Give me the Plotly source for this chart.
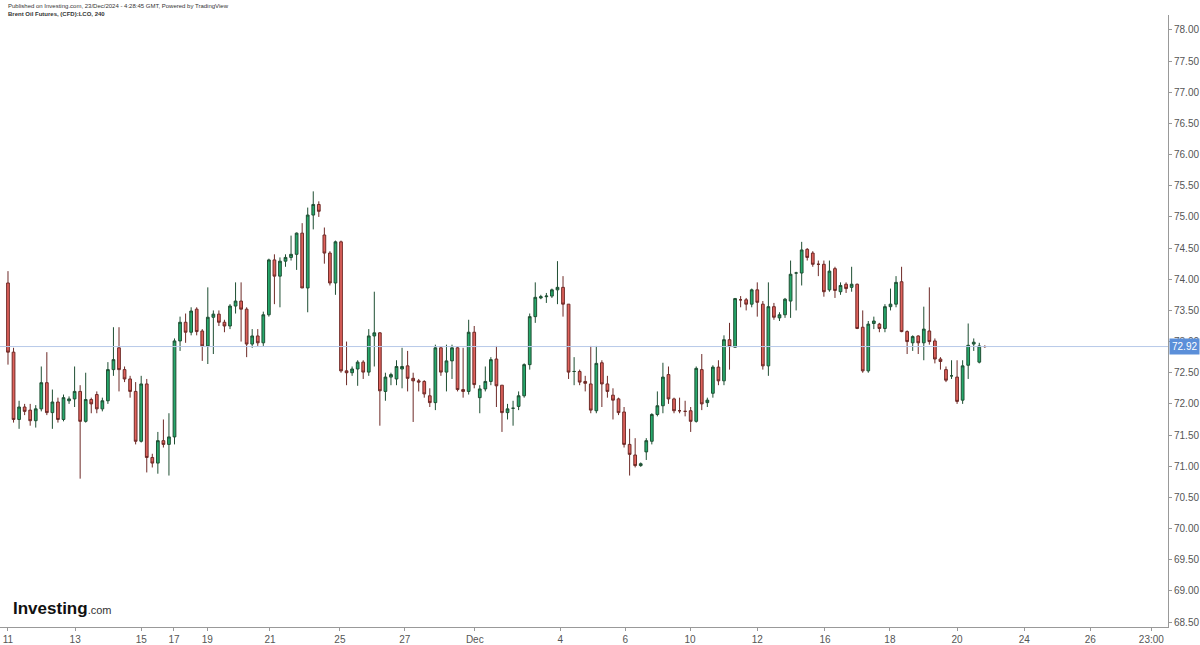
import plotly.graph_objects as go

opens = [73.94,72.83,71.75,71.95,71.9,71.73,71.92,72.34,71.86,72.03,71.75,72.05,72.08,72.2,71.72,72.07,72.15,71.92,72.05,72.55,
72.9,72.55,72.4,72.2,71.4,72.32,71.14,71.05,71.41,71.35,71.47,73.01,73.31,73.15,73.52,73.17,72.93,73.39,73.44,73.31,
73.25,73.57,73.65,73.52,72.96,73.09,72.98,73.43,74.31,74.05,74.29,74.35,74.4,74.74,73.86,75.03,75.2,74.71,74.42,73.94,
74.6,72.53,72.5,72.56,72.67,72.51,73.09,73.14,72.2,72.43,72.4,72.56,72.61,72.41,72.37,72.36,72.13,72.02,72.9,72.51,
72.69,72.9,72.23,72.2,73.15,72.1,72.24,72.36,72.72,72.3,71.86,71.93,71.96,72.13,72.63,73.4,73.7,73.72,73.73,73.83,
73.87,73.6,72.52,72.52,72.36,72.32,71.89,72.66,72.32,72.14,72.08,71.87,71.35,71.18,71.01,71.23,71.4,71.83,71.97,72.47,
72.08,71.89,71.88,71.89,71.72,72.55,72.02,72.17,72.59,72.37,73.03,72.91,73.67,73.67,73.6,73.83,73.6,72.61,73.56,73.38,
73.43,73.65,74.1,74.1,74.48,74.42,74.24,74.24,73.83,74.17,73.8,73.92,73.87,73.92,73.23,72.53,73.29,73.28,73.21,73.56,
73.6,73.96,73.16,72.98,73.09,72.98,73.17,73.01,72.72,72.55,72.45,72.43,72.06,72.62,72.96,72.67,72.92]
closes = [72.83,71.75,71.95,71.88,71.73,71.92,72.34,71.86,72.03,71.75,72.1,72.08,72.2,71.72,72.07,72.0,71.92,72.05,72.55,72.71,
72.55,72.4,72.2,71.4,72.32,71.14,71.05,71.41,71.35,71.47,73.01,73.31,73.15,73.49,73.16,72.93,73.39,73.44,73.31,73.25,
73.57,73.65,73.52,72.96,73.09,72.98,73.43,74.31,74.05,74.29,74.35,74.4,74.74,73.86,75.03,75.2,75.09,74.42,73.94,74.6,
72.53,72.5,72.56,72.67,72.51,73.09,73.14,72.21,72.43,72.47,72.6,72.6,72.41,72.37,72.35,72.16,72.02,72.9,72.51,72.69,
72.9,72.23,72.2,73.15,72.31,72.24,72.36,72.71,72.29,71.86,71.92,71.93,72.13,72.63,73.4,73.71,73.72,73.73,73.83,73.87,
73.6,72.51,72.52,72.35,72.33,71.9,72.65,72.32,72.2,72.06,71.86,71.35,71.19,71.01,71.04,71.41,71.83,71.97,72.43,72.08,
71.89,71.89,71.88,71.72,72.57,72.0,72.06,72.59,72.37,73.03,72.92,73.69,73.67,73.6,73.83,73.63,72.61,73.56,73.39,73.43,
73.68,74.08,74.1,74.47,74.35,74.24,74.24,73.8,74.13,73.82,73.9,73.85,73.92,73.21,72.53,73.28,73.33,73.21,73.56,73.6,
73.95,73.16,73.0,73.08,72.98,73.2,73.0,72.72,72.68,72.38,72.45,72.04,72.61,72.94,72.99,72.93,72.92]
highs = [74.13,72.9,72.05,72.0,72.0,71.98,72.6,72.83,72.23,72.1,72.15,72.12,72.6,72.3,72.5,72.1,72.2,72.1,72.67,73.23,
73.23,72.6,72.45,72.35,72.45,72.4,71.2,71.55,71.75,71.85,73.05,73.4,73.45,73.55,73.55,73.2,73.87,73.5,73.5,73.35,
73.6,73.95,73.95,73.55,73.2,73.2,73.48,74.33,74.4,74.35,74.4,74.7,74.75,74.9,75.15,75.41,75.25,74.83,74.45,74.62,
74.62,73.0,72.6,72.7,72.7,73.2,73.8,73.15,72.5,72.5,72.7,72.9,72.85,72.5,72.4,72.38,72.25,72.95,72.92,72.95,
72.95,72.92,72.9,73.35,73.25,72.3,72.6,72.75,72.93,72.3,72.0,72.05,72.2,72.65,73.45,73.95,73.75,73.78,73.85,74.29,
74.05,73.6,72.75,72.55,72.45,72.93,72.93,72.7,72.45,72.25,72.1,71.95,71.6,71.45,71.06,71.45,71.85,72.2,72.66,72.6,
72.1,72.1,72.05,71.95,72.6,72.8,72.1,72.62,72.7,73.1,73.3,73.7,73.73,73.7,73.85,73.95,73.65,73.95,73.62,73.47,
73.7,74.3,74.12,74.6,74.5,74.45,74.3,74.3,74.3,74.2,73.95,73.95,74.2,73.93,73.5,73.33,73.4,73.3,73.6,73.85,
74.05,74.2,73.18,73.1,73.1,73.56,73.87,73.05,72.75,72.6,72.7,72.7,72.7,73.29,73.05,72.98,72.94]
lows = [72.63,71.7,71.6,71.82,71.65,71.62,71.88,71.82,71.6,71.7,71.72,72.0,71.95,70.8,71.7,71.85,71.85,71.88,72.0,72.45,
72.2,72.35,72.1,71.35,71.38,70.9,70.98,70.88,71.3,70.85,71.35,72.85,72.98,73.1,73.1,72.69,72.64,72.8,73.25,73.15,
73.2,73.45,73.0,72.75,72.9,72.93,72.93,73.4,73.6,73.55,74.2,74.3,74.15,73.86,73.47,74.8,75.0,74.25,73.9,73.75,
72.5,72.3,72.45,72.29,72.4,72.45,72.6,71.65,72.05,72.3,72.3,72.25,72.2,71.71,72.2,72.1,71.95,71.9,72.45,72.2,
72.4,72.2,72.1,72.15,72.25,71.85,72.2,72.3,71.95,71.55,71.75,71.65,71.9,72.1,72.55,73.3,73.68,73.62,73.7,73.6,
73.4,72.4,72.3,72.3,72.2,71.85,71.85,71.95,72.1,71.75,71.82,71.3,70.85,70.98,70.99,71.1,71.35,71.8,71.85,72.0,
71.85,71.85,71.8,71.55,71.7,71.9,71.95,72.1,72.3,72.3,72.55,72.9,73.55,73.5,73.55,73.4,72.55,72.45,73.35,73.33,
73.38,73.38,73.5,73.9,74.3,74.2,74.05,73.72,73.8,73.7,73.75,73.78,73.8,73.2,72.5,72.5,73.2,73.15,73.15,73.5,
73.55,73.15,72.8,72.85,72.8,72.7,72.95,72.65,72.55,72.35,72.4,72.0,72.0,72.4,72.85,72.65,72.9]

tick_labels = ["11","13","15","17","19","21","25","27","Dec","4","6","10","12","16","18","20","24","26","23:00"]
tick_pos = [0,12.1,24.0,29.9,35.9,47.2,59.8,71.5,84.1,99.5,111.2,122.9,135.0,147.2,158.9,171.0,183.1,195.0,206.0]
last_price = 72.92

x = list(range(len(closes)))
fig = go.Figure(go.Candlestick(
    x=x, open=opens, high=highs, low=lows, close=closes,
    increasing=dict(fillcolor="#26a96c", line=dict(color="#1f4f33", width=1)),
    decreasing=dict(fillcolor="#e0625c", line=dict(color="#6e2a27", width=1)),
    whiskerwidth=0, showlegend=False, hoverinfo="skip"))

fig.add_hline(y=last_price, line=dict(color="#b7c9e8", width=1))

fig.update_layout(
    width=1200, height=645, plot_bgcolor="white", paper_bgcolor="white",
    margin=dict(l=0, r=32, t=15, b=16),
    font=dict(family="Liberation Sans, Arial", color="#555", size=10),
    xaxis=dict(range=[-1.44, 209.0], rangeslider=dict(visible=False), showgrid=False,
               tickmode="array", tickvals=tick_pos, ticktext=tick_labels,
               showline=True, linecolor="#999", linewidth=1, ticks="outside",
               ticklen=3, tickcolor="#999", zeroline=False),
    yaxis=dict(side="right", range=[68.42, 78.24], dtick=0.5, tickformat=".2f",
               showgrid=False, showline=True, linecolor="#999", linewidth=1,
               ticks="outside", ticklen=3, tickcolor="#999", zeroline=False),
)
fig.add_annotation(xref="paper", yref="y", x=1.0, y=last_price, xanchor="left",
                   text="72.92", showarrow=False, bgcolor="#5b8fd9",
                   font=dict(color="white", size=10), borderpad=2, xshift=1)
fig.add_annotation(xref="paper", yref="paper", x=0.005, y=1.0, yanchor="top", xanchor="left",
                   xshift=0, yshift=14, showarrow=False, align="left",
                   text="Published on Investing.com, 23/Dec/2024 - 4:28:45 GMT, Powered by TradingView<br><b>Brent Oil Futures, (CFD):LCO, 240</b>",
                   font=dict(size=6, color="#333"))
fig.add_annotation(xref="paper", yref="paper", x=0.009, y=0.012, xanchor="left", yanchor="bottom",
                   showarrow=False,
                   text="<b><span style='font-size:17px;color:#111'>Investing</span></b><span style='font-size:11px;color:#333'>.com</span>",
                   font=dict(family="Liberation Sans, Arial"))
fig.write_html("out.html", config={"displayModeBar": False},
               post_script="document.body.style.margin='0';document.body.style.overflow='hidden';")
